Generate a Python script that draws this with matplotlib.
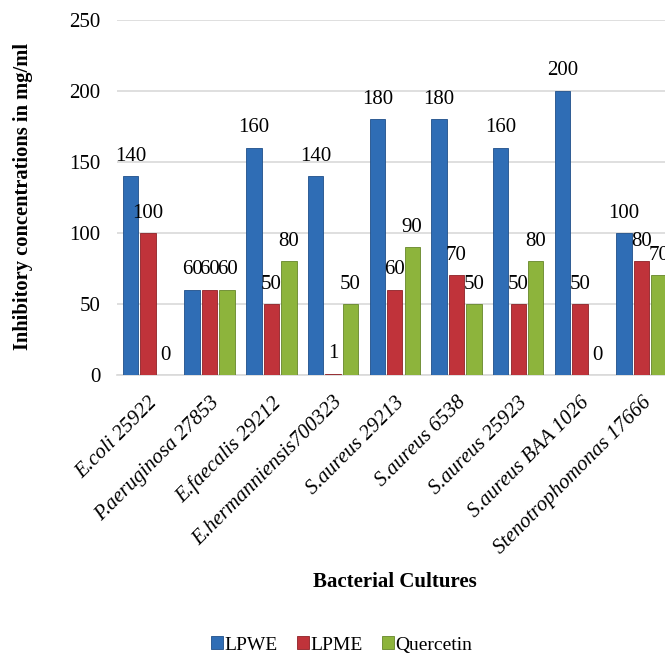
import matplotlib
matplotlib.use("Agg")
import matplotlib.pyplot as plt
from matplotlib.patches import Patch
import numpy as np

# data
cultures = [
    "E.coli 25922",
    "P.aeruginosa 27853",
    "E.faecalis 29212",
    "E.hermanniensis700323",
    "S.aureus 29213",
    "S.aureus 6538",
    "S.aureus 25923",
    "S.aureus BAA 1026",
    "Stenotrophomonas 17666",
]
lpwe = [140, 60, 160, 140, 180, 180, 160, 200, 100]
lpme = [100, 60, 50, 1, 60, 70, 50, 50, 80]
quercetin = [0, 60, 80, 50, 90, 50, 80, 0, 70]

series_names = ["LPWE", "LPME", "Quercetin"]
colors = ["#2F6DB5", "#C0333A", "#8DB43C"]
edges = ["#1F4F8A", "#8E2126", "#66862A"]

plt.rcParams["font.family"] = ["Liberation Serif", "DejaVu Serif"]

fig = plt.figure(figsize=(6.65, 6.55), dpi=100)
ax = fig.add_axes([0.176, 0.4275, 0.8353, 0.5425])

x = np.arange(len(cultures))
pitch = 0.283
width = 0.25
for k, (name, vals) in enumerate(zip(series_names, [lpwe, lpme, quercetin])):
    pos = x + (k - 1) * pitch
    bars = ax.bar(pos, vals, width, color=colors[k], edgecolor=edges[k],
                  linewidth=0.6, label=name, zorder=3)
    for b, v in zip(bars, vals):
        ax.annotate(str(v), (b.get_x() + b.get_width() / 2, v),
                    xytext=(0, 11), textcoords="offset points",
                    ha="center", va="baseline", fontsize=15, zorder=4,
                    annotation_clip=False)

ax.set_xlim(-0.5, len(cultures) - 0.5)
ax.set_ylim(0, 250)
ax.set_yticks(np.arange(0, 251, 50))
ax.yaxis.grid(True, color="#D9D9D9", linewidth=1.2, zorder=0)
ax.set_axisbelow(True)
for s in ["top", "right", "left"]:
    ax.spines[s].set_visible(False)
ax.spines["bottom"].set_color("#D9D9D9")
ax.spines["bottom"].set_linewidth(1.2)
ax.tick_params(axis="y", length=0, pad=12, labelsize=15)
ax.tick_params(axis="x", length=0, pad=13)

ax.set_xticks(x)
ax.set_xticklabels(cultures, rotation=45, ha="right", va="top",
                   rotation_mode="anchor", fontsize=15, style="italic")

fig.text(23 / 665, 1 - 196 / 655, "Inhibitory concentrations in mg/ml",
         rotation=90, ha="center", va="center", fontsize=14.8, fontweight="bold")
fig.text(395 / 665, 1 - 582 / 655, "Bacterial Cultures",
         ha="center", va="center", fontsize=15, fontweight="bold")

handles = [Patch(facecolor=c, edgecolor=e, linewidth=0.6)
           for c, e in zip(colors, edges)]
fig.legend(handles, series_names, loc="center", ncol=3,
           bbox_to_anchor=(342 / 665, 1 - 645 / 655), frameon=False,
           fontsize=14, handlelength=0.6, handleheight=0.6,
           handletextpad=0.08, columnspacing=1.0)

fig.savefig("out.png", dpi=100)
